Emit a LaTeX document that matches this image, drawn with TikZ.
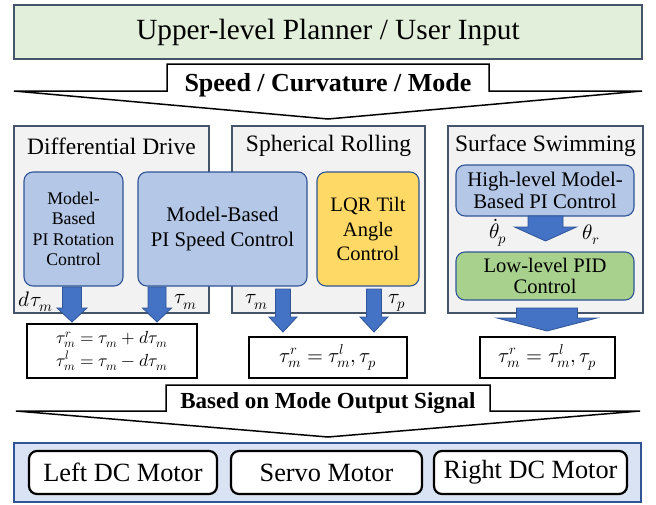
\documentclass[tikz,border=0pt]{standalone}
\usepackage{fontspec}
\usepackage{unicode-math}
\setmainfont{Liberation Serif}
\setmathfont{Latin Modern Math}
\begin{document}
\begin{tikzpicture}[x=1pt,y=-1pt,
  fs/.style={font=\fontsize{#1}{\dimexpr #1pt*6/5\relax}\selectfont},
  header/.style={draw=slateb, line width=1.2pt, fill=hdrgreen, inner sep=0pt},
  panel/.style={draw=slateb, line width=1.1pt, fill=panelgrey, inner sep=0pt},
  ctrl/.style={draw=darkblue, line width=1.1pt, rounded corners=9pt, inner sep=0pt, align=center},
  eqbox/.style={draw=black, line width=1.6pt, fill=white, inner sep=0pt, align=center},
  motor/.style={draw=black, line width=2.2pt, fill=white, rounded corners=8pt, inner sep=0pt},
  bigarrow/.style={draw=black, line width=1.5pt, fill=white, line join=miter},
  arrowfill/.style={fill=arrblue, draw=darkblue, line width=0.8pt}
]
\definecolor{slateb}{HTML}{44546A}
\definecolor{hdrgreen}{HTML}{E2EFDA}
\definecolor{panelgrey}{HTML}{F2F2F2}
\definecolor{darkblue}{HTML}{2F5597}
\definecolor{ctrlblue}{HTML}{B4C7E7}
\definecolor{gold}{HTML}{FFD966}
\definecolor{ctrlgreen}{HTML}{A9D18E}
\definecolor{arrblue}{HTML}{4472C4}
\definecolor{motorbg}{HTML}{DAE3F3}
\newcommand{\blockarr}[6]{%
  \filldraw[arrowfill] (#1-#5,#2) -- (#1+#5,#2) -- (#1+#5,#3) -- (#1+#6,#3) -- (#1,#4) -- (#1-#6,#3) -- (#1-#5,#3) -- cycle;}
\useasboundingbox (0,0) rectangle (656,504);

% header
\node[header, minimum width=628pt, minimum height=54pt, fs=29.3] (top) at (328,32) {Upper-level Planner / User Input};

% big arrow 1
\draw[bigarrow] (14,91) -- (167,91) -- (167,64) -- (489,64) -- (489,91) -- (642,91) -- (328,119) -- cycle;
\node[fs=26] (sig1) at (328,85) {\bfseries Speed / Curvature / Mode};

% panels
\node[panel, minimum width=195pt, minimum height=187pt] (pdiff) at (111.5,219.5) {};
\node[panel, minimum width=193pt, minimum height=187pt] (psph) at (328.5,219.5) {};
\node[panel, minimum width=195pt, minimum height=187pt] (pswim) at (545.5,219.5) {};
\node[fs=23.5] (tdiff) at (111.5,146) {Differential Drive};
\node[fs=23.5] (tsph) at (328.5,146) {Spherical Rolling};
\node[fs=23.5] (tswim) at (545.5,146) {Surface Swimming};

% control boxes
\node[ctrl, fill=ctrlblue, minimum width=99pt, minimum height=114pt, fs=17.8] (rot) at (73.5,229) {Model-\\[-1pt]Based\\[-1pt]PI Rotation\\[-1pt]Control};
\node[ctrl, fill=ctrlblue, minimum width=169pt, minimum height=114pt, fs=20.8] (spd) at (222.5,229) {Model-Based\\PI Speed Control};
\node[ctrl, fill=gold, minimum width=102pt, minimum height=114pt, fs=20.5] (lqr) at (368,229) {LQR Tilt\\Angle\\Control};
\node[ctrl, fill=ctrlblue, minimum width=178pt, minimum height=51pt, fs=20.8] (high) at (545,190.5) {High-level Model-\\[-3pt]Based PI Control};
\node[ctrl, fill=ctrlgreen, minimum width=178pt, minimum height=48pt, fs=20.6] (low) at (545,276) {Low-level PID\\[-3pt]Control};

% block arrows
\blockarr{72}{287}{308}{322}{9.5}{15}
\blockarr{157}{287}{308}{322}{9}{14.5}
\blockarr{283}{289}{317}{332}{7.5}{14}
\blockarr{374}{289}{317}{332}{7.5}{14}
\blockarr{545.5}{216}{227}{241}{17.5}{31}
\blockarr{547}{308}{318}{331}{30.5}{50}

% labels
\node[fs=21] (ldt) at (36,302) {$d\tau_m$};
\node[fs=21] (lt1) at (186,302) {$\tau_m$};
\node[fs=21] (lt2) at (257,302) {$\tau_m$};
\node[fs=21] (ltp) at (397,303) {$\tau_p$};
\node[fs=21] (lthp) at (498,233) {$\dot{\theta}_p$};
\node[fs=21] (lthr) at (591,235) {$\theta_r$};

% equation boxes
\node[eqbox, minimum width=170pt, minimum height=54pt, fs=17.5] (eq1) at (112,351) {$\tau_m^r=\tau_m+d\tau_m$\\[1.5pt]$\tau_m^l=\tau_m-d\tau_m$};
\node[eqbox, minimum width=158pt, minimum height=41pt, fs=20.5] (eq2) at (328,357.5) {$\tau_m^r=\tau_m^l,\tau_p$};
\node[eqbox, minimum width=135pt, minimum height=41pt, fs=20.5] (eq3) at (547.5,357.5) {$\tau_m^r=\tau_m^l,\tau_p$};

% big arrow 2
\draw[bigarrow] (16,411) -- (166,411) -- (166,385) -- (490,385) -- (490,411) -- (640,411) -- (328,437) -- cycle;
\node[fs=23] (sig2) at (328,403) {\bfseries Based on Mode Output Signal};

% motors
\node[draw=darkblue, line width=1.4pt, fill=motorbg, minimum width=627pt, minimum height=59pt, inner sep=0pt] (mpanel) at (327.5,472.5) {};
\node[motor, minimum width=188pt, minimum height=43pt, fs=26.3] (mleft) at (123,472.5) {Left DC Motor};
\node[motor, minimum width=191pt, minimum height=43pt, fs=26.3] (mservo) at (326.5,472.5) {Servo Motor};
\node[motor, minimum width=193pt, minimum height=43pt, fs=26.3] (mright) at (530.5,472.5) {Right DC Motor};
\end{tikzpicture}
\end{document}
